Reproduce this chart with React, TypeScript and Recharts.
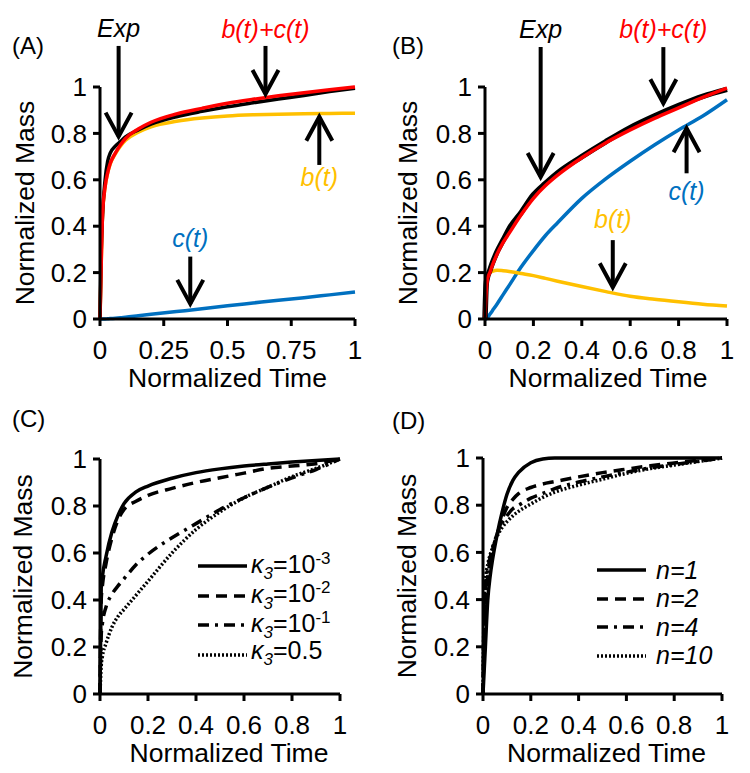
import React from "react";
import { LineChart, Line, XAxis, YAxis, ReferenceLine, Legend, Label } from "recharts";

// ---- Panel A: experiment vs. model, fast release
const timeA = [0, 0.005, 0.01, 0.02, 0.03, 0.04, 0.06, 0.08, 0.1, 0.15, 0.2, 0.3, 0.4, 0.5, 0.6, 0.7, 0.8, 0.9, 1];
const expA = [0, 0.3, 0.45, 0.6, 0.68, 0.715, 0.745, 0.765, 0.785, 0.815, 0.84, 0.872, 0.895, 0.915, 0.932, 0.948, 0.963, 0.98, 0.995];
const sumA = [0, 0.25, 0.45, 0.57, 0.63, 0.67, 0.715, 0.75, 0.778, 0.819, 0.848, 0.884, 0.908, 0.93, 0.947, 0.962, 0.975, 0.988, 1];
const bA = [0, 0.25, 0.45, 0.57, 0.629, 0.668, 0.712, 0.745, 0.77, 0.805, 0.828, 0.852, 0.866, 0.875, 0.88, 0.883, 0.885, 0.886, 0.887];
const cA = [0, 0, 0, 0, 0.001, 0.002, 0.003, 0.005, 0.008, 0.014, 0.02, 0.032, 0.044, 0.057, 0.069, 0.081, 0.092, 0.104, 0.116];

// ---- Panel B: experiment vs. model, slow release
const timeB = [0, 0.005, 0.01, 0.02, 0.03, 0.05, 0.075, 0.1, 0.15, 0.2, 0.25, 0.3, 0.4, 0.5, 0.6, 0.7, 0.8, 0.9, 1];
const expB = [0, 0.15, 0.18, 0.21, 0.24, 0.29, 0.34, 0.39, 0.46, 0.535, 0.585, 0.63, 0.7, 0.765, 0.825, 0.875, 0.92, 0.96, 0.99];
const sumB = [0, 0.12, 0.17, 0.2, 0.23, 0.28, 0.33, 0.37, 0.45, 0.52, 0.575, 0.62, 0.695, 0.76, 0.815, 0.865, 0.91, 0.955, 0.995];
const bB = [0, 0.15, 0.18, 0.2, 0.205, 0.21, 0.208, 0.205, 0.196, 0.187, 0.175, 0.163, 0.14, 0.118, 0.098, 0.085, 0.074, 0.064, 0.056];
const cB = [0, 0, 0.005, 0.02, 0.035, 0.065, 0.105, 0.145, 0.225, 0.295, 0.36, 0.415, 0.52, 0.605, 0.68, 0.75, 0.815, 0.875, 0.945];

// ---- Panel C: effect of kappa_3
const timeC = [0, 0.005, 0.01, 0.025, 0.05, 0.075, 0.1, 0.15, 0.2, 0.3, 0.4, 0.5, 0.6, 0.7, 0.8, 0.9, 1];
const kappaBase = ["10", "10", "10", "0.5"];
const kappaExp = ["-3", "-2", "-1", ""];
const kappaSeries = [
  [0, 0.45, 0.5, 0.585, 0.69, 0.76, 0.81, 0.86, 0.885, 0.918, 0.942, 0.958, 0.97, 0.979, 0.987, 0.994, 1],
  [0, 0.4, 0.46, 0.555, 0.665, 0.74, 0.785, 0.82, 0.845, 0.875, 0.9, 0.92, 0.94, 0.96, 0.97, 0.98, 1],
  [0, 0.25, 0.3, 0.37, 0.425, 0.46, 0.49, 0.55, 0.595, 0.665, 0.725, 0.785, 0.835, 0.88, 0.92, 0.955, 1],
  [0, 0.12, 0.16, 0.215, 0.285, 0.33, 0.36, 0.42, 0.48, 0.6, 0.7, 0.775, 0.835, 0.88, 0.925, 0.96, 1],
];

// ---- Panel D: effect of n
const timeD = [0, 0.005, 0.01, 0.02, 0.03, 0.04, 0.06, 0.08, 0.1, 0.125, 0.15, 0.2, 0.25, 0.3, 0.4, 0.5, 0.6, 0.7, 0.8, 0.9, 1];
const nLabels = ["n=1", "n=2", "n=4", "n=10"];
const nSeries = [
  [0, 0.1, 0.2, 0.4, 0.5, 0.57, 0.68, 0.77, 0.845, 0.905, 0.94, 0.98, 0.996, 1, 1, 1, 1, 1, 1, 1, 1],
  [0, 0.3, 0.4, 0.5, 0.56, 0.61, 0.68, 0.74, 0.79, 0.825, 0.85, 0.875, 0.89, 0.9, 0.92, 0.938, 0.953, 0.967, 0.979, 0.99, 1],
  [0, 0.35, 0.45, 0.53, 0.58, 0.62, 0.68, 0.725, 0.755, 0.785, 0.8, 0.83, 0.85, 0.87, 0.898, 0.92, 0.94, 0.958, 0.972, 0.986, 1],
  [0, 0.38, 0.48, 0.55, 0.59, 0.62, 0.67, 0.705, 0.73, 0.755, 0.775, 0.805, 0.833, 0.855, 0.885, 0.91, 0.935, 0.955, 0.97, 0.985, 1],
];

const yTicks = [0, 0.2, 0.4, 0.6, 0.8, 1];
const xTicksA = [0, 0.25, 0.5, 0.75, 1];
const xTicks = [0, 0.2, 0.4, 0.6, 0.8, 1];

// arrow annotations (x, tail, tip in data units)
const notesA = [
  { text: "Exp", color: "#000", x: 0.073, tail: 1.177, tip: 0.786, dy: -9 },
  { text: "b(t)+c(t)", color: "#FF0000", x: 0.649, tail: 1.177, tip: 0.97, dy: -8 },
  { text: "b(t)", color: "#FFC000", x: 0.86, tail: 0.664, tip: 0.872, dy: 21 },
  { text: "c(t)", color: "#0070C0", x: 0.354, tail: 0.269, tip: 0.065, dy: -10 },
];
const notesB = [
  { text: "Exp", color: "#000", x: 0.23, tail: 1.172, tip: 0.612, dy: -9 },
  { text: "b(t)+c(t)", color: "#FF0000", x: 0.737, tail: 1.172, tip: 0.93, dy: -9 },
  { text: "c(t)", color: "#0070C0", x: 0.833, tail: 0.628, tip: 0.822, dy: 27 },
  { text: "b(t)", color: "#FFC000", x: 0.528, tail: 0.34, tip: 0.137, dy: -12 },
];

const RED = "#FF0000";
const GOLD = "#FFC000";
const BLUE = "#0070C0";
const DASHES = [undefined, "11 7", "11 6 3 6", "2 2"];
const FONT = "'Liberation Sans', Arial, sans-serif";

const pts = (ts: number[], vs: number[]) => ts.map((t, i) => ({ t, v: vs[i] }));

const arrowShape = (note: any) => (p: any) => {
  const { x1, y1, x2, y2 } = p;
  const dir = y2 > y1 ? 1 : -1;
  return (
    <g>
      <line x1={x1} y1={y1} x2={x2} y2={y2} stroke="#000" strokeWidth={4} />
      <polyline
        points={`${x2 - 13},${y2 - 24 * dir} ${x2},${y2} ${x2 + 13},${y2 - 24 * dir}`}
        fill="none"
        stroke="#000"
        strokeWidth={4}
      />
      <text x={x1} y={y1 + note.dy} textAnchor="middle" fill={note.color} fontStyle="italic" fontSize={25}>
        {note.text}
      </text>
    </g>
  );
};

const xTitle = (dx: number) => (props: any) => {
  const vb = props.viewBox || {};
  return (
    <text x={vb.x + vb.width / 2 + dx} y={vb.y + 68} textAnchor="middle" fontSize={26.5} fill="#000">
      Normalized Time
    </text>
  );
};

const yTitle = (cx: number) => (props: any) => {
  const vb = props.viewBox || {};
  const cy = vb.y + vb.height / 2;
  const bx = cx + 9;
  return (
    <text x={bx} y={cy} transform={`rotate(-90, ${bx}, ${cy})`} textAnchor="middle" fontSize={26.5} fill="#000">
      Normalized Mass
    </text>
  );
};

const lineSample = (i: number) => (
  <svg width={49} height={8} style={{ display: "block" }}>
    <line x1={0} y1={4} x2={49} y2={4} stroke="#000" strokeWidth={3.5} strokeDasharray={DASHES[i]} />
  </svg>
);

const KappaLegend = () => (
  <div style={{ fontSize: 25, color: "#000", fontFamily: FONT }}>
    {kappaBase.map((b, i) => (
      <div key={i} style={{ display: "flex", alignItems: "center", height: 29.7 }}>
        {lineSample(i)}
        <span style={{ marginLeft: 4, lineHeight: "25px" }}>
          <i>
            κ<sub style={{ fontSize: 17 }}>3</sub>
          </i>
          ={b}
          {kappaExp[i] ? <sup style={{ fontSize: 17 }}>{kappaExp[i]}</sup> : null}
        </span>
      </div>
    ))}
  </div>
);

const NLegend = () => (
  <div style={{ fontSize: 25, color: "#000", fontFamily: FONT }}>
    {nLabels.map((s, i) => (
      <div key={i} style={{ display: "flex", alignItems: "center", height: 28.5 }}>
        {lineSample(i)}
        <span style={{ marginLeft: 10, lineHeight: "25px", fontStyle: "italic" }}>{s}</span>
      </div>
    ))}
  </div>
);

type Frame = {
  left: number;
  top: number;
  width: number;
  height: number;
  margin: { top: number; right: number; bottom: number; left: number };
  yWidth: number;
  yTitleX: number;
  xTitleDx: number;
};

function Panel({ frame, xTicksList, tag, tagPos, children }: { frame: Frame; xTicksList: number[]; tag: string; tagPos: [number, number]; children: React.ReactNode }) {
  return (
    <>
      <div style={{ position: "absolute", left: frame.left, top: frame.top }}>
        <LineChart width={frame.width} height={frame.height} margin={frame.margin}>
          <XAxis
            dataKey="t"
            type="number"
            domain={[0, 1]}
            ticks={xTicksList}
            interval={0}
            height={75}
            axisLine={{ stroke: "#000", strokeWidth: 3 }}
            tickLine={{ stroke: "#000", strokeWidth: 3 }}
            tickSize={7}
            tickMargin={15}
            tick={{ fill: "#000", fontSize: 26 }}
          >
            <Label content={xTitle(frame.xTitleDx)} />
          </XAxis>
          <YAxis
            type="number"
            domain={[0, 1]}
            ticks={yTicks}
            interval={0}
            width={frame.yWidth}
            axisLine={{ stroke: "#000", strokeWidth: 3 }}
            tickLine={{ stroke: "#000", strokeWidth: 3 }}
            tickSize={7}
            tickMargin={6}
            tick={{ fill: "#000", fontSize: 26 }}
          >
            <Label content={yTitle(frame.yTitleX)} />
          </YAxis>
          {children}
        </LineChart>
      </div>
      <div style={{ position: "absolute", left: tagPos[0], top: tagPos[1], fontSize: 24, lineHeight: "24px" }}>{tag}</div>
    </>
  );
}

const notes = (list: any[]) =>
  list.map((n, i) => (
    <ReferenceLine
      key={"n" + i}
      segment={[
        { x: n.x, y: n.tail },
        { x: n.x, y: n.tip },
      ]}
      ifOverflow="visible"
      shape={arrowShape(n)}
    />
  ));

const curve = (key: string, data: any[], color: string, width: number, dash?: string) => (
  <Line
    key={key}
    data={data}
    dataKey="v"
    type="monotone"
    stroke={color}
    strokeWidth={width}
    strokeDasharray={dash}
    dot={false}
    activeDot={false}
    isAnimationActive={false}
    legendType="none"
  />
);

export default function App() {
  return (
    <div
      style={{
        position: "absolute",
        left: 0,
        top: 0,
        width: 750,
        height: 773,
        overflow: "hidden",
        background: "#fff",
        fontFamily: FONT,
        color: "#000",
      }}
    >
      <Panel
        frame={{ left: 0, top: 0, width: 375, height: 400, margin: { top: 87, right: 20, bottom: 6, left: 0 }, yWidth: 100, yTitleX: 25, xTitleDx: 0 }}
        xTicksList={xTicksA}
        tag="(A)"
        tagPos={[12, 34]}
      >
        {curve("cA", pts(timeA, cA), BLUE, 3.5)}
        {curve("bA", pts(timeA, bA), GOLD, 3.5)}
        {curve("eA", pts(timeA, expA), "#000", 3.5)}
        {curve("sA", pts(timeA, sumA), RED, 3.5)}
        {notes(notesA)}
      </Panel>
      <Panel
        frame={{ left: 375, top: 0, width: 375, height: 400, margin: { top: 87, right: 23, bottom: 6, left: 0 }, yWidth: 110, yTitleX: 33, xTitleDx: 2 }}
        xTicksList={xTicks}
        tag="(B)"
        tagPos={[392, 34]}
      >
        {curve("cB", pts(timeB, cB), BLUE, 3.5)}
        {curve("bB", pts(timeB, bB), GOLD, 3.5)}
        {curve("eB", pts(timeB, expB), "#000", 5.5)}
        {curve("sB", pts(timeB, sumB), RED, 3.5)}
        {notes(notesB)}
      </Panel>
      <Panel
        frame={{ left: 0, top: 380, width: 375, height: 393, margin: { top: 79, right: 35, bottom: 4, left: 0 }, yWidth: 100, yTitleX: 23, xTitleDx: 9 }}
        xTicksList={xTicks}
        tag="(C)"
        tagPos={[12, 407]}
      >
        {kappaSeries.map((s, i) => curve("k" + i, pts(timeC, s), "#000", 3.5, DASHES[i]))}
        <Legend
          layout="vertical"
          align="center"
          verticalAlign="middle"
          wrapperStyle={{ left: 198, top: 171, width: "auto" }}
          content={() => <KappaLegend />}
        />
      </Panel>
      <Panel
        frame={{ left: 375, top: 380, width: 375, height: 393, margin: { top: 78, right: 28, bottom: 4, left: 0 }, yWidth: 108, yTitleX: 32, xTitleDx: 4 }}
        xTicksList={xTicks}
        tag="(D)"
        tagPos={[392, 409]}
      >
        {nSeries.map((s, i) => curve("n" + i, pts(timeD, s), "#000", 3.5, DASHES[i]))}
        <Legend
          layout="vertical"
          align="center"
          verticalAlign="middle"
          wrapperStyle={{ left: 222, top: 176, width: "auto" }}
          content={() => <NLegend />}
        />
      </Panel>
    </div>
  );
}
